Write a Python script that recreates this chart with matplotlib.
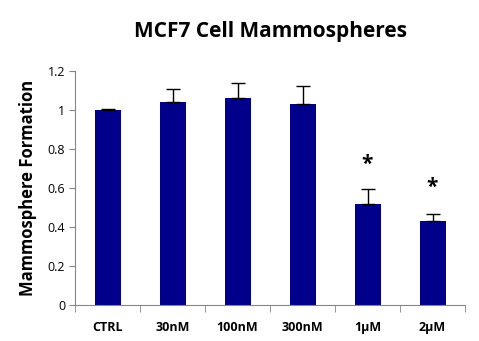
import numpy as np
import matplotlib.pyplot as plt

# dane
kategorie = ["CTRL", "30nM", "100nM", "300nM", "1\u00b5M", "2\u00b5M"]
wartosci = [1.0, 1.04, 1.06, 1.03, 0.516, 0.43]
bledy = [0.005, 0.065, 0.075, 0.09, 0.075, 0.035]
gwiazdki = ["", "", "", "", "*", "*"]
gwiazdki_y = [0, 0, 0, 0, 0.72, 0.60]

plt.rcParams['font.family'] = ['Open Sans', 'DejaVu Sans']

fig = plt.figure(figsize=(4.79, 3.41), dpi=100)
ax = fig.add_axes([75 / 479, 1 - 304.7 / 341, 390 / 479, 234 / 341])

x = np.arange(len(kategorie))
ax.bar(x, wartosci, width=0.4, color='#00008B', zorder=2)
ax.errorbar(x, wartosci, yerr=[np.zeros(len(bledy)), bledy], fmt='none',
            ecolor='black', elinewidth=1, capsize=5, capthick=1, zorder=3)

for xi, g, gy in zip(x, gwiazdki, gwiazdki_y):
    if g:
        ax.text(xi, gy, g, ha='center', va='center', fontsize=15,
                fontweight='bold', color='black')

ax.set_xlim(-0.5, len(kategorie) - 0.5)
ax.set_ylim(0, 1.2)
ax.set_yticks([0, 0.2, 0.4, 0.6, 0.8, 1.0, 1.2])
ax.set_yticklabels(["0", "0.2", "0.4", "0.6", "0.8", "1", "1.2"], fontsize=9)

ax.set_xticks(x)
ax.set_xticklabels(kategorie, fontsize=9, fontweight='bold')
ax.tick_params(axis='x', length=0, pad=12)
ax.set_xticks(np.arange(len(kategorie) + 1) - 0.5, minor=True)
ax.tick_params(axis='x', which='minor', length=5, color='#868686', direction='out')
ax.tick_params(axis='y', length=4, color='#868686', direction='out', pad=3)

for s in ['top', 'right']:
    ax.spines[s].set_visible(False)
for s in ['left', 'bottom']:
    ax.spines[s].set_color('#868686')

ax.set_ylabel("Mammosphere Formation", fontsize=12, fontweight='bold', labelpad=8)
fig.text(270 / 479, 1 - 32 / 341, "MCF7 Cell Mammospheres", ha='center',
         va='center', fontsize=15, fontweight='bold')

fig.savefig("out.png", dpi=100)
